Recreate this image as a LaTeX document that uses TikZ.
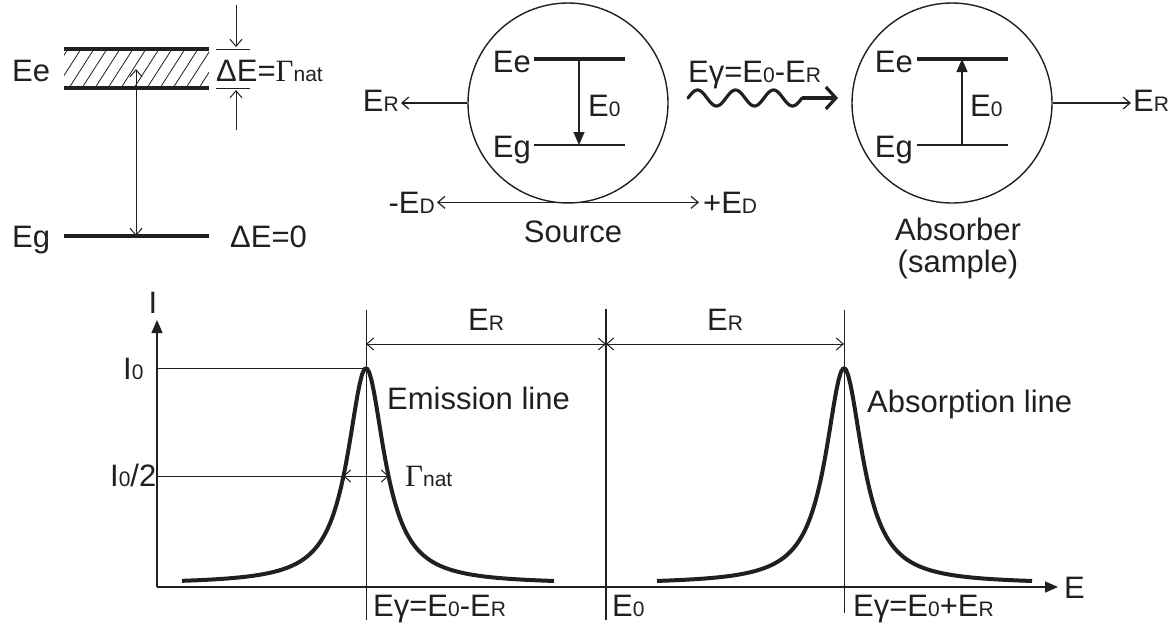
\documentclass[tikz,border=0pt]{standalone}
\usepackage{fontspec}
\setmainfont{Liberation Sans}
\newfontfamily\grk{Liberation Serif}
\usetikzlibrary{arrows.meta,calc,positioning}
\definecolor{ink}{RGB}{35,31,32}
\newcommand{\smallsub}[1]{{\fontsize{21}{21}\selectfont #1}}

\begin{document}
\begin{tikzpicture}[
  x=1pt,y=-1pt,
  font=\fontsize{31}{36}\selectfont,
  color=ink,
  txt/.style={inner sep=0pt,text=ink},
  thinline/.style={line width=1.2pt},
  level/.style={line width=4pt},
  curve/.style={line width=4pt,line join=round},
  atom/.style={circle,draw=ink,line width=1.4pt,minimum size=200pt,inner sep=0pt},
  barb/.style={-{Straight Barb[length=7pt,width=12pt]}},
  dimarrow/.style={{Straight Barb[length=7pt,width=12pt]}-{Straight Barb[length=7pt,width=12pt]},line width=1pt},
  solidtip/.style={-{Triangle[length=13pt,width=11pt]}},
  photon/.style={line width=3.2pt,line cap=round}
]
\useasboundingbox (0,0) rectangle (1169,633);

% level scheme with natural width
\coordinate (eeL) at (64,49);  \coordinate (eeR) at (209,49);
\coordinate (ebL) at (64,88);  \coordinate (ebR) at (209,88);
\coordinate (egL) at (64,236); \coordinate (egR) at (209,236);
\begin{scope}
  \clip (eeL) rectangle (ebR);
  \foreach \x in {30,43,...,225}
    \draw[line width=0.8pt] (\x,88) -- ++(25,-39);
\end{scope}
\draw[level] (eeL) -- (eeR);
\draw[level] (ebL) -- (ebR);
\draw[level] (egL) -- (egR);
\node[txt,anchor=base west] (ee0) at (12,81) {Ee};
\node[txt,anchor=base west] (eg0) at (12,247) {Eg};
\node[txt,anchor=base west] (gam0) at (216,81) {ΔE={\grk Γ}\smallsub{nat}};
\node[txt,anchor=base west] (zero0) at (230,247) {ΔE=0};
\coordinate (tr0) at (136,69); \coordinate (tr1) at (136,236);
\draw[dimarrow] (tr1) -- (tr0);
\draw[line width=1pt] (216,49) -- (250,49) (216,88) -- (250,88);
\draw[line width=1pt,barb] (236,5) -- (236,47);
\draw[line width=1pt,barb] (236,130) -- (236,90);

% source
\node[atom] (src) at (568,103) {};
\coordinate (sEeL) at (534,59);  \coordinate (sEeR) at (625,59);
\coordinate (sEgL) at (534,145); \coordinate (sEgR) at (625,145);
\draw[level] (sEeL) -- (sEeR);
\draw[thinline] (sEgL) -- (sEgR);
\draw[thinline,solidtip] (579,59) -- (579,145);
\node[txt,anchor=base east] (sEe) at (531,72) {Ee};
\node[txt,anchor=base east] (sEg) at (531,157) {Eg};
\node[txt,anchor=base west] (sE0) at (588,116) {E\smallsub{0}};
\node[txt,anchor=base east] (sER) at (399,111) {E\smallsub{R}};
\draw[thinline,barb] (src.west) -- ($(src.west -| sER.east)+(2,0)$);
\node[txt,anchor=base east] (mED) at (435,213) {-E\smallsub{D}};
\node[txt,anchor=base west] (pED) at (703,213) {+E\smallsub{D}};
\draw[dimarrow,line width=1.2pt] ($(mED.east)+(2,0)$) -- ($(pED.west)+(-4,0)$);
\node[txt,anchor=base] (srcl) at (573,242) {Source};

% gamma quantum
\node[txt,anchor=base west] (egam) at (688,82) {E{γ}=E\smallsub{0}-E\smallsub{R}};
\coordinate (w1) at (802,98); \coordinate (w2) at (838,98);
\draw[photon] plot[domain=0:114,samples=90] ({688+\x},{98-8*sin(\x/38*360)});
\draw[photon,line cap=butt,-{Straight Barb[length=10pt,width=22pt,line width=3.2pt]}] (w1) -- (w2);

% absorber
\node[atom] (abs) at (952,103) {};
\coordinate (aEeL) at (917,59);  \coordinate (aEeR) at (1008,59);
\coordinate (aEgL) at (917,145); \coordinate (aEgR) at (1008,145);
\draw[level] (aEeL) -- (aEeR);
\draw[thinline] (aEgL) -- (aEgR);
\draw[thinline,solidtip] (962,145) -- (962,59);
\node[txt,anchor=base east] (aEe) at (913,72) {Ee};
\node[txt,anchor=base east] (aEg) at (913,157) {Eg};
\node[txt,anchor=base west] (aE0) at (970,116) {E\smallsub{0}};
\node[txt,anchor=base west] (aER) at (1133,111) {E\smallsub{R}};
\draw[thinline,barb] (abs.east) -- ($(abs.east -| aER.west)+(-2,0)$);
\node[txt,anchor=base] (absl) at (958,240) {Absorber};
\node[txt,anchor=base] (absl2) at (958,272) {(sample)};

% spectrum
\coordinate (O) at (157,587);
\coordinate (yTop) at (157,320);
\coordinate (xEnd) at (1058,587);
\draw[line width=1.5pt,solidtip] (O) -- (yTop);
\draw[line width=1.5pt,solidtip] (O) -- (xEnd);
\node[txt,anchor=base] (Ilab) at (153,313) {I};
\node[txt,anchor=base west] (Elab) at (1064,598) {E};

\coordinate (emTop) at (366,310); \coordinate (emBot) at (366,620);
\coordinate (e0Top) at (606,309); \coordinate (e0Bot) at (606,620);
\coordinate (abTop) at (844,310); \coordinate (abBot) at (844,613);
\draw[line width=1pt] (emTop) -- (emBot);
\draw[line width=1.6pt] (e0Top) -- (e0Bot);
\draw[line width=1pt] (abTop) -- (abBot);

\draw[line width=1pt] (157,368) -- (366,368);
\draw[line width=1pt] (157,476) -- (343,476);
\draw[dimarrow] (343,476) -- (389,476);
\draw[dimarrow] (366,344) -- (606,344);
\draw[dimarrow] (606,344) -- (844,344);

\node[txt,anchor=base west] (I0) at (123,379) {I\smallsub{0}};
\node[txt,anchor=base west] (I02) at (110,486) {I\smallsub{0}/2};
\node[txt,anchor=base west] (gnat) at (405,486) {{\grk Γ}\smallsub{nat}};
\node[txt,anchor=base] (erl) at (486,330) {E\smallsub{R}};
\node[txt,anchor=base] (err) at (725,330) {E\smallsub{R}};
\node[txt,anchor=base west] (emis) at (387,409) {Emission line};
\node[txt,anchor=base west] (absp) at (867,412) {Absorption line};

\draw[curve] plot[domain=-184:188,samples=160] ({366+\x},{584-216/(1+(\x/22.5)^2)});
\draw[curve] plot[domain=-187:188,samples=160] ({844+\x},{584-216/(1+(\x/22.5)^2)});

\node[txt,anchor=base west] (egm) at (373,616) {E{γ}=E\smallsub{0}-E\smallsub{R}};
\node[txt,anchor=base west] (e0l) at (612,616) {E\smallsub{0}};
\node[txt,anchor=base west] (egp) at (853,616) {E{γ}=E\smallsub{0}+E\smallsub{R}};
\end{tikzpicture}
\end{document}
